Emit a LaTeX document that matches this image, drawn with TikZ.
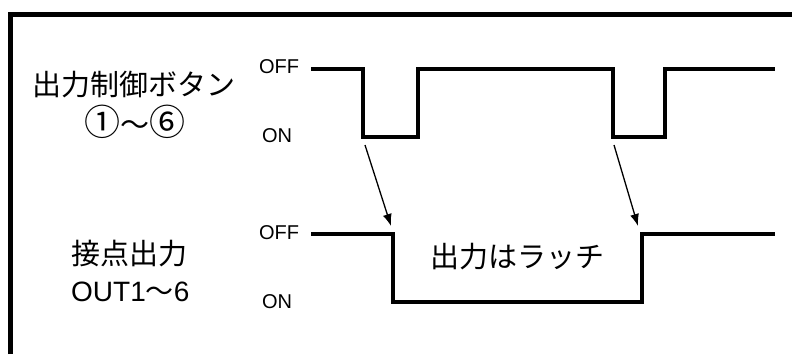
\documentclass[tikz,border=0pt]{standalone}
\usepackage{fontspec}
\setmainfont{Liberation Sans}
\newfontfamily\jpfont{Noto Sans CJK JP}
\usetikzlibrary{arrows.meta}
\newcommand{\levellabels}[3]
{\node[lvl] (#1off) at (279,#2) {OFF};
 \node[lvl] (#1on) at (277,#3) {ON};
}
\newcommand{\circnum}[1]{{\fontsize{36}{36}\selectfont #1}}

\begin{document}
\begin{tikzpicture}[>={Latex[length=12pt,width=9pt]},x={(1pt,0)},y={(0,-1pt)},
	sig/.style={line width=4.5pt,line join=miter},
	lvl/.style={inner sep=0pt,font=\fontsize{20}{20}\selectfont},
	jp/.style={inner sep=0pt,font=\jpfont\fontsize{29}{32}\selectfont}]
	\useasboundingbox (0,0) rectangle (792,354);
	% frame
	\draw[line width=5pt] (10.5,354) -- (10.5,14) -- (792,14);
	% labels
	\node[jp] (btn) at (134,85) {出力制御ボタン};
	\node[jp] (btnno) at (135,122) {\circnum{①}〜\circnum{⑥}};
	\node[jp,anchor=west] (cnt) at (71,254) {接点出力};
	\node[inner sep=0pt,anchor=west,font=\fontsize{28}{28}\selectfont] (cntno) at (71,292) {OUT1{\jpfont 〜}6};
	\levellabels{b}{67}{136}
	\levellabels{c}{233}{302}
	% button signal
	\draw[sig] (311,69) -| (363,137) coordinate (b1) -| (418,69) -| (613,137) coordinate (b2) -| (665,69) -- (775,69);
	% output signal
	\draw[sig] (311,234) -| (393,302) coordinate (c1) -| (642,234) -- (775,234);
	\coordinate (c1t) at (391,226);
	\coordinate (c2t) at (638,226);
	\node[jp] (latch) at (517,257) {出力はラッチ};
	\draw[->,line width=1.3pt] ([shift={(2,8)}]b1) -- (c1t);
	\draw[->,line width=1.3pt] ([shift={(1,8)}]b2) -- (c2t);
\end{tikzpicture}
\end{document}
